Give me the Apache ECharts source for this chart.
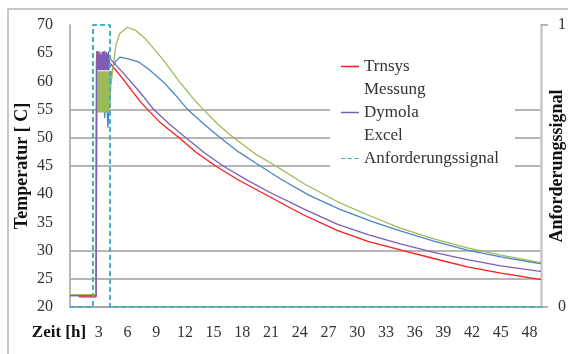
<!DOCTYPE html>
<html>
<head>
<meta charset="utf-8">
<script src="https://cdn.jsdelivr.net/npm/echarts@6/dist/echarts.min.js"></script>
<style>html,body{margin:0;padding:0;background:#fff}#c{width:568px;height:354px}</style>
</head>
<body>
<div id="c"></div>
<script>
// ---- data (time [h], value) ----
const trnsys = [[0.9,21.8],[2.72,21.8],[2.76,63.5],[2.82,65.4],[2.86,63.6],[2.9,65.2],[2.95,63.8],[3.3,63.7],[3.55,65.3],[3.6,63.8],[3.65,65.1],[3.7,63.6],[4.1,63.4],[5.5,60.5],[7.3,56.5],[8.1,55.0],[9.5,52.6],[11.4,50.0],[13.2,47.4],[15.2,45.0],[17.5,42.6],[20.9,39.5],[24.3,36.4],[27.9,33.6],[31.2,31.6],[34.8,30.0],[38.0,28.6],[41.5,27.1],[45.0,26.0],[48.75,25.0],[49.2,24.9]];
const messung = [[0,22.0],[2.74,22.0],[2.78,54.0],[2.9,60.5],[3.05,55.0],[3.2,61.0],[3.35,55.5],[3.5,60.0],[3.62,53.5],[3.75,59.0],[3.97,51.8],[4.1,57.0],[4.25,60.5],[4.5,62.7],[4.8,63.6],[5.2,64.3],[6.1,64.0],[7.2,63.4],[8.2,62.2],[9.7,60.0],[11.0,57.6],[12.3,55.0],[14.0,52.4],[15.7,50.0],[17.6,47.5],[19.6,45.3],[22.0,42.7],[25.0,39.8],[28.2,37.3],[31.5,35.2],[34.5,33.5],[38.0,31.7],[41.5,30.1],[45.0,28.9],[48.75,27.8],[49.2,27.7]];
const dymola = [[0,22.0],[2.74,22.0],[2.78,62.0],[2.82,65.3],[2.87,62.0],[2.92,64.8],[2.97,62.0],[3.02,65.4],[3.07,62.0],[3.12,64.9],[3.17,62.0],[3.22,65.2],[3.27,62.0],[3.32,64.7],[3.37,62.0],[3.42,65.3],[3.47,62.0],[3.52,64.9],[3.57,62.0],[3.62,65.4],[3.67,62.0],[3.72,64.8],[3.77,62.0],[3.82,65.2],[3.87,62.0],[3.92,64.9],[3.97,62.0],[4.02,65.3],[4.07,62.0],[4.12,64.6],[4.2,64.0],[5.5,61.6],[7.4,57.9],[8.75,55.0],[10.4,52.4],[12.1,50.0],[14.0,47.4],[16.0,45.0],[18.5,42.5],[20.9,40.3],[24.4,37.4],[27.9,34.7],[31.2,32.8],[34.5,31.2],[38.0,29.7],[41.5,28.4],[45.0,27.3],[48.75,26.4],[49.2,26.3]];
const excel = [[0,22.2],[2.74,22.2],[2.78,54.5],[2.82,61.8],[2.87,54.5],[2.92,61.8],[2.97,54.5],[3.02,61.8],[3.07,54.5],[3.12,61.8],[3.17,54.5],[3.22,61.8],[3.27,54.5],[3.32,61.8],[3.37,54.5],[3.42,61.8],[3.47,54.5],[3.52,61.8],[3.57,54.5],[3.62,61.8],[3.67,54.5],[3.72,61.8],[3.77,54.5],[3.82,61.8],[3.87,54.5],[3.92,61.8],[3.97,54.5],[4.02,61.8],[4.07,54.5],[4.12,61.8],[4.17,56.0],[4.25,59.0],[4.5,62.5],[4.8,66.5],[5.2,68.5],[6.0,69.6],[6.8,69.1],[7.9,67.5],[9.7,63.9],[11.4,60.0],[13.1,56.5],[14.0,54.9],[15.5,52.3],[17.1,50.0],[19.3,47.2],[21.5,45.0],[24.5,41.8],[27.9,38.7],[31.0,36.4],[34.5,34.0],[38.0,32.1],[41.5,30.5],[45.0,29.2],[48.75,28.0],[49.2,27.9]];
const signal = [[0,0],[2.4,0],[2.4,1],[4.18,1],[4.18,0],[49.2,0]];
const legendNames = ['Trnsys','Messung','Dymola','Excel','Anforderungssignal'];
const hiddenLegendIcons = ['Messung','Excel'];
const dashedLegendIcons = ['Anforderungssignal'];
const tempTickStep = 5, timeTickStep = 3;

const serif = 'Liberation Serif';
const gridGray = '#9e9e9e';
// split lines visible only at 25,30,45,50,55 (ticks 20..70)
const splitColors = [gridGray,gridGray,gridGray,'rgba(0,0,0,0)','rgba(0,0,0,0)',gridGray,gridGray,gridGray,'rgba(0,0,0,0)','rgba(0,0,0,0)','rgba(0,0,0,0)'];
const dashIcon = 'path://M0,0h5v1h-5z M8,0h5v1h-5z M16,0h5v1h-5z';

const chart = echarts.init(document.getElementById('c'), null, {renderer:'canvas'});
function lineSeries(name, data, color, extra) {
  return Object.assign({
    name, type:'line', data, symbol:'none', showSymbol:false,
    lineStyle:{color, width:1.3}, itemStyle:{color}, animation:false
  }, extra || {});
}
chart.setOption({
  animation:false,
  backgroundColor:'#fff',
  grid:{left:70, right:27, top:25, bottom:47, containLabel:false, outerBoundsMode:'none'},
  legend:{
    orient:'vertical', left:330, top:52,
    padding:[6,16,8,11], itemGap:6, itemWidth:18, itemHeight:1.5,
    backgroundColor:'#fff',
    textStyle:{fontFamily:serif, fontSize:17, color:'#333', lineHeight:17},
    data: legendNames.map(n => {
      if (hiddenLegendIcons.includes(n)) return {name:n, icon:'rect', itemStyle:{opacity:0}};
      if (dashedLegendIcons.includes(n)) return {name:n, icon:dashIcon};
      return {name:n, icon:'rect'};
    })
  },
  xAxis:{
    type:'value', min:0, max:49.2, interval:timeTickStep,
    axisLine:{show:true, lineStyle:{color:gridGray, width:1.5}},
    axisTick:{show:false}, splitLine:{show:false},
    axisLabel:{margin:18, fontFamily:serif, fontSize:16, color:'#333',
      formatter: v => (v > 0 && v % timeTickStep === 0) ? String(v) : ''}
  },
  yAxis:[{
    type:'value', min:20, max:70, interval:tempTickStep,
    name:'Temperatur [ C]', nameLocation:'middle', nameGap:39, nameMoveOverlap:false,
    nameTextStyle:{fontFamily:serif, fontWeight:'bold', fontSize:18, color:'#111'},
    axisLine:{show:true, lineStyle:{color:gridGray, width:1.5}},
    axisTick:{show:false},
    axisLabel:{margin:17, fontFamily:serif, fontSize:16, color:'#333'},
    splitLine:{show:true, lineStyle:{color:splitColors, width:1.5}}
  },{
    type:'value', min:0, max:1, interval:1, position:'right',
    name:'Anforderungssignal', nameLocation:'middle', nameGap:7, nameMoveOverlap:false,
    nameTextStyle:{fontFamily:serif, fontWeight:'bold', fontSize:18, color:'#111'},
    axisLine:{show:true, lineStyle:{color:'#c8c8c8', width:2.5}},
    axisTick:{show:true, length:7, lineStyle:{color:gridGray, width:1.5}},
    axisLabel:{margin:17, fontFamily:serif, fontSize:16, color:'#333'},
    splitLine:{show:false}
  }],
  graphic:[
    {type:'rect', shape:{x:8, y:9, width:640, height:420}, style:{fill:'none', stroke:'#b5b5b5', lineWidth:1.5}, silent:true},
    {type:'text', x:59, y:333, style:{text:'Zeit [h]', font:'bold 17px "Liberation Serif"', fill:'#111', align:'center', verticalAlign:'middle', textAlign:'center', textVerticalAlign:'middle'}}
  ],
  series:[
    lineSeries('Messung', messung, '#4a84c6'),
    lineSeries('Trnsys', trnsys, '#ff1a1a'),
    lineSeries('Excel', excel, '#9bbb59'),
    lineSeries('Dymola', dymola, '#7e5eb4'),
    lineSeries('Anforderungssignal', signal, '#4bacc6', {
      yAxisIndex:1, clip:false,
      lineStyle:{color:'#4bacc6', width:2, type:[5,3]}
    })
  ]
});
</script>
</body>
</html>
